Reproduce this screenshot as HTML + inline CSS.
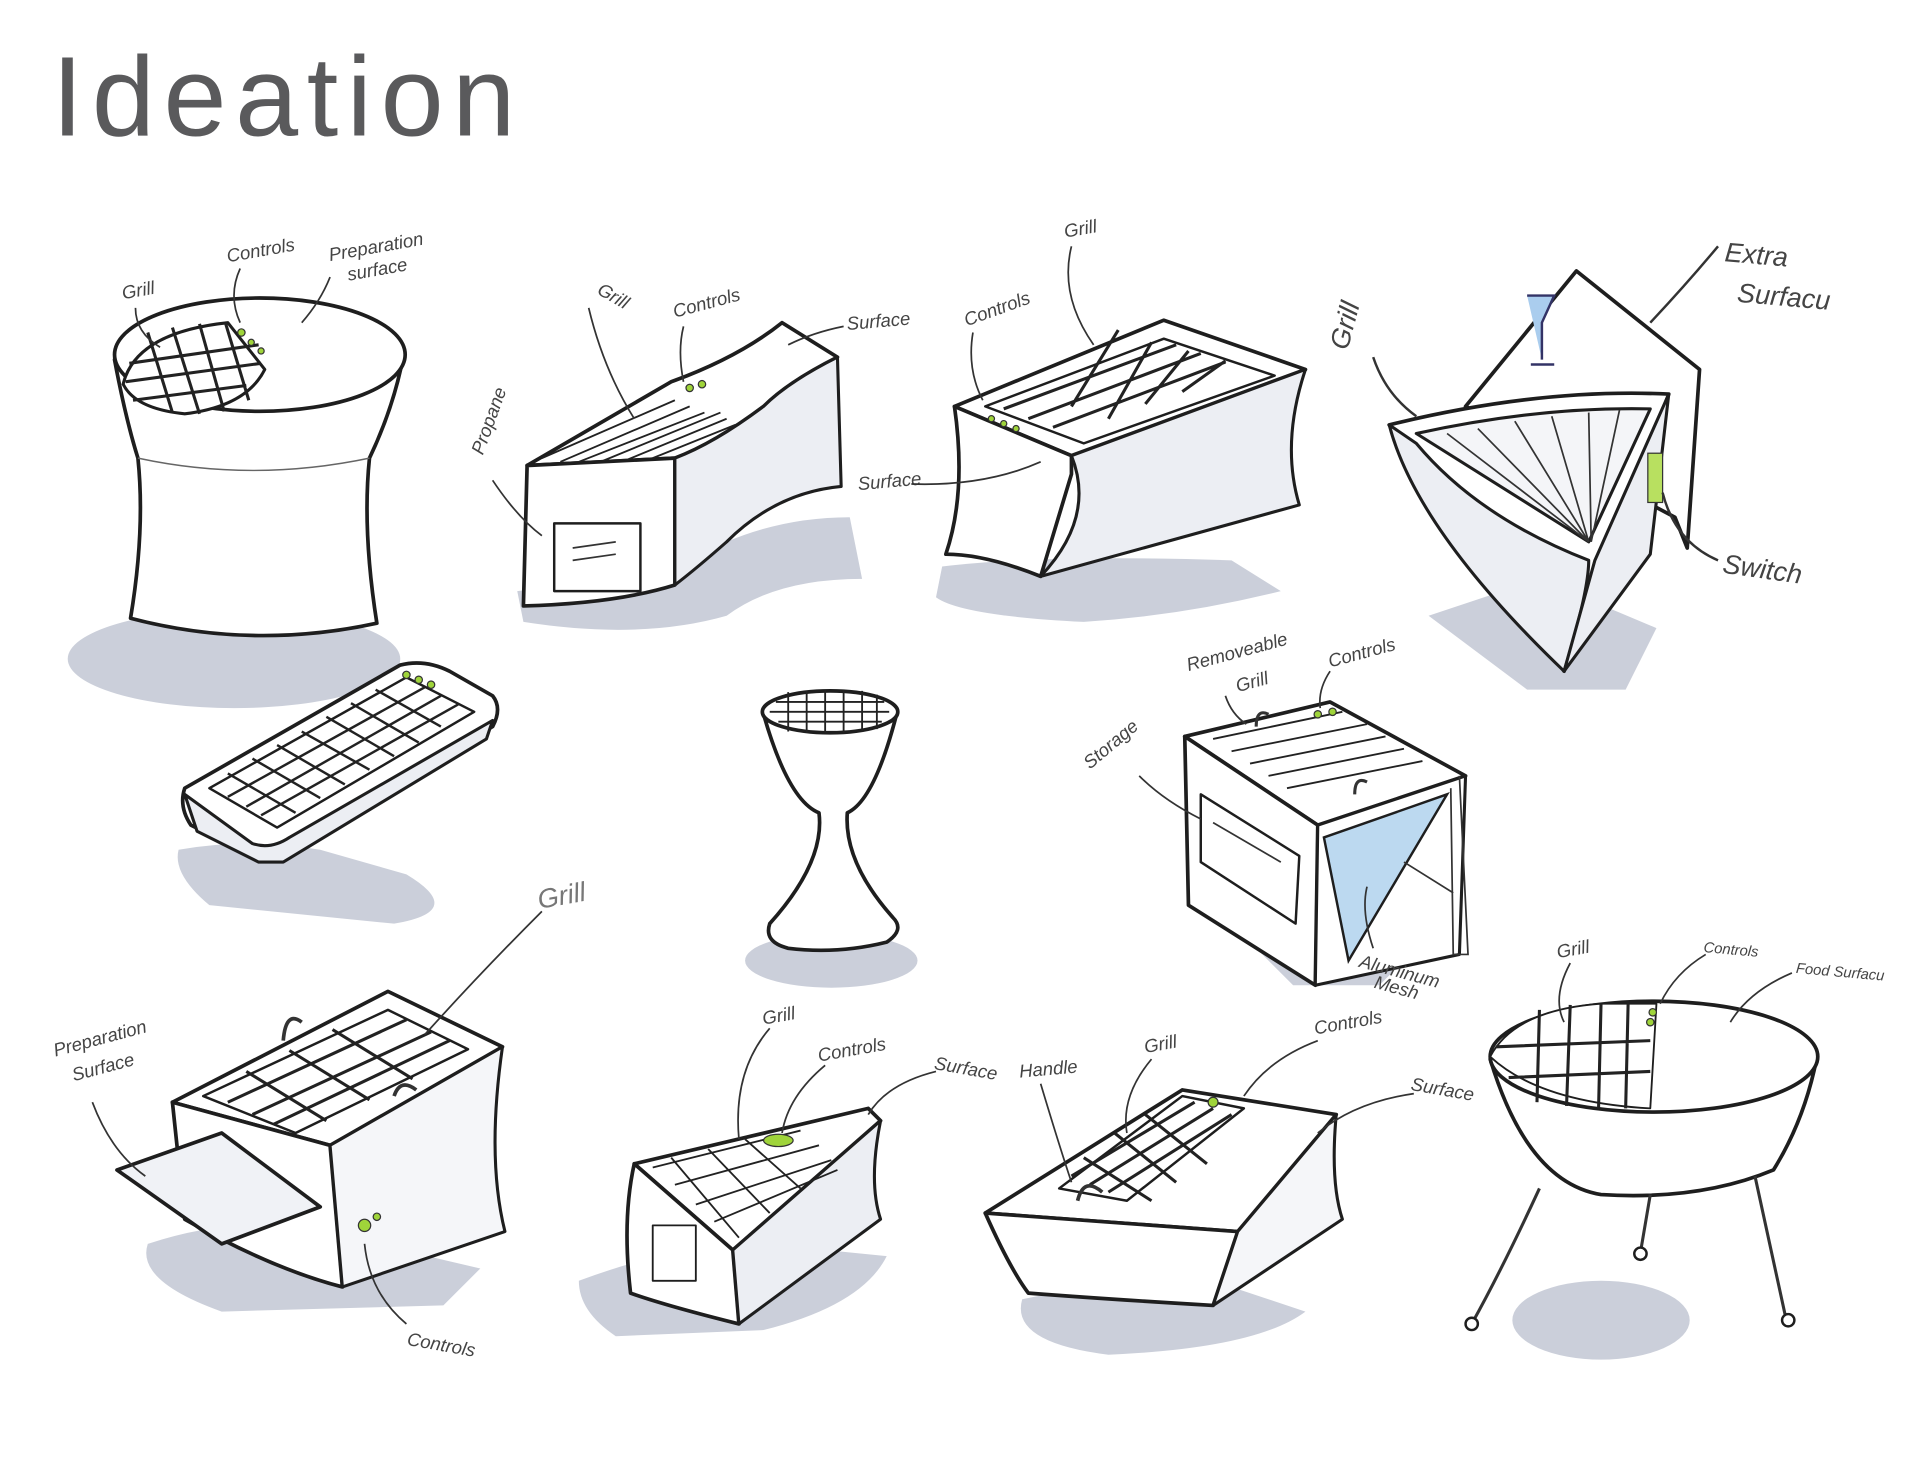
<!DOCTYPE html>
<html><head><meta charset="utf-8">
<style>
html,body{margin:0;padding:0;background:#fff;}
svg{display:block}
.o{fill:#fff;stroke:#1e1e1e;stroke-width:3;stroke-linejoin:round;stroke-linecap:round}
.s{fill:#eceef3;stroke:#1e1e1e;stroke-width:2.5;stroke-linejoin:round}
.d{fill:#dfe2ea;stroke:#1e1e1e;stroke-width:2.5;stroke-linejoin:round}
.g{fill:none;stroke:#222;stroke-width:2.5}
.t{fill:none;stroke:#666;stroke-width:1.2}
.a{fill:none;stroke:#333;stroke-width:1.4}
.sh{fill:#cbcfda}
.l{font-family:"Liberation Sans",sans-serif;font-size:15px;fill:#444;font-style:italic}
.lb{font-family:"Liberation Sans",sans-serif;font-size:22px;fill:#444;font-style:italic}
.gr{fill:#9fd43a;stroke:#333;stroke-width:1}
</style></head>
<body>
<svg width="1920" height="1484" viewBox="0 0 1559 1205" preserveAspectRatio="none" xmlns="http://www.w3.org/2000/svg">
<text x="42" y="110" font-family="Liberation Sans,sans-serif" font-size="92" letter-spacing="7" fill="#5a5a5c">Ideation</text>

<!-- 1 stool -->
<ellipse class="sh" cx="190" cy="535" rx="135" ry="40"/>
<path class="o" d="M93,292 Q102,340 112,372 Q118,430 106,502 Q205,528 306,506 Q294,430 300,372 Q320,330 328,287 Z"/>
<path class="t" d="M112,372 Q205,392 300,372"/>
<ellipse class="o" cx="211" cy="288" rx="118" ry="46"/>
<path class="d" d="M100,312 Q110,270 185,262 L215,300 Q200,330 150,336 Q110,332 100,312 Z" style="fill:#fff"/>
<g class="g"><path d="M105,295 L210,280 M102,310 L212,295 M108,325 L200,313 M120,270 L140,335 M140,266 L162,336 M162,263 L182,334 M183,262 L202,325"/></g>
<circle class="gr" cx="196" cy="270" r="3"/><circle class="gr" cx="204" cy="278" r="2.5"/><circle class="gr" cx="212" cy="285" r="2.5"/>
<text class="l" x="100" y="243" transform="rotate(-10 100 243)">Grill</text>
<text class="l" x="185" y="213" transform="rotate(-10 185 213)">Controls</text>
<text class="l" x="268" y="212" transform="rotate(-10 268 212)">Preparation</text>
<text class="l" x="283" y="228" transform="rotate(-10 283 228)">surface</text>
<path class="a" d="M110,250 Q110,270 130,282 M195,218 Q185,240 195,262 M268,225 Q260,245 245,262"/>

<!-- 2 curved bench -->
<path class="sh" d="M420,480 Q500,470 560,455 Q620,420 690,420 L700,470 Q630,470 590,500 Q520,520 425,505 Z"/>
<path class="o" d="M428,378 L545,310 Q600,290 635,262 L680,290 Q640,310 620,330 Q580,360 548,372 Z"/>
<path class="o" d="M428,378 L548,372 L548,475 Q500,490 425,492 Z"/>
<path class="s" d="M548,372 Q580,360 620,330 Q640,310 680,290 L683,395 Q630,400 590,440 Q565,462 548,475 Z"/>
<g class="g" style="stroke-width:1.5"><path d="M440,372 L548,325 M455,375 L560,330 M470,375 L572,335 M490,374 L585,335 M510,373 L590,340 M530,372 L597,345"/></g>
<rect class="o" x="450" y="425" width="70" height="55" style="stroke-width:2"/>
<path class="a" d="M465,445 L500,440 M465,455 L500,450"/>
<circle class="gr" cx="560" cy="315" r="3"/><circle class="gr" cx="570" cy="312" r="3"/>
<text class="l" x="484" y="238" transform="rotate(30 484 238)">Grill</text>
<text class="l" x="548" y="258" transform="rotate(-15 548 258)">Controls</text>
<text class="l" x="688" y="268" transform="rotate(-5 688 268)">Surface</text>
<text class="l" x="392" y="370" transform="rotate(-70 392 370)">Propane</text>
<path class="a" d="M478,250 Q490,300 515,340 M555,265 Q550,285 555,310 M685,265 Q660,270 640,280 M400,390 Q420,420 440,435"/>

<!-- 3 rect top -->
<path class="sh" d="M765,460 Q850,450 1000,455 L1040,480 Q960,500 880,505 Q780,500 760,485 Z"/>
<path class="o" d="M775,330 L945,260 L1060,300 L870,370 Z"/>
<path class="o" d="M775,330 L870,370 L870,385 L845,468 Q800,450 768,450 Q785,400 775,330 Z"/>
<path class="s" d="M870,370 L1060,300 Q1040,360 1055,410 L845,468 Q890,420 870,370 Z"/>
<path class="o" d="M800,330 L945,275 L1035,305 L880,360 Z" style="stroke-width:2"/>
<g class="g"><path d="M815,332 L955,280 M835,340 L975,287 M855,347 L995,294 M870,330 L908,268 M900,340 L935,278 M930,328 L965,285 M960,318 L995,293"/></g>
<circle class="gr" cx="805" cy="340" r="2.5"/><circle class="gr" cx="815" cy="344" r="2.5"/><circle class="gr" cx="825" cy="348" r="2.5"/>
<text class="l" x="865" y="193" transform="rotate(-10 865 193)">Grill</text>
<text class="l" x="785" y="265" transform="rotate(-20 785 265)">Controls</text>
<text class="l" x="697" y="398" transform="rotate(-5 697 398)">Surface</text>
<path class="a" d="M870,200 Q860,240 888,280 M790,270 Q785,300 798,325 M740,393 Q800,395 845,375"/>

<!-- 4 triangle -->
<path class="sh" d="M1160,500 L1250,470 L1345,510 L1320,560 L1240,560 Z"/>
<path class="o" d="M1190,330 L1280,220 L1380,300 L1370,445 L1360,420 Z"/>
<path class="o" d="M1128,345 Q1250,315 1355,320 L1270,545 Z"/>
<path class="s" d="M1128,345 Q1150,430 1270,545 Q1290,480 1290,455 Q1200,420 1150,360 Z"/>
<path class="s" d="M1355,320 L1340,450 L1270,545 L1295,455 Z"/>
<path class="d" d="M1150,352 Q1250,330 1340,332 L1290,440 Z" style="fill:#f4f5f8"/>
<g class="a"><path d="M1175,352 L1290,440 M1200,348 L1290,440 M1230,342 L1290,440 M1260,338 L1290,440 M1290,335 L1292,440 M1315,333 L1292,440"/></g>
<rect class="gr" x="1338" y="368" width="12" height="40" style="fill:#b8e060"/>
<path d="M1240,240 L1262,240 L1252,262 L1252,292 M1243,296 L1262,296" class="a" style="stroke:#336;stroke-width:2;fill:#aacdee"/>
<text class="lb" x="1400" y="212" transform="rotate(5 1400 212)">Extra</text>
<text class="lb" x="1410" y="245" transform="rotate(5 1410 245)">Surfacu</text>
<text class="lb" x="1094" y="285" transform="rotate(-75 1094 285)">Grill</text>
<text class="lb" x="1398" y="465" transform="rotate(8 1398 465)">Switch</text>
<path class="a" d="M1395,200 Q1370,230 1340,262 M1115,290 Q1125,320 1150,338 M1395,455 Q1360,440 1350,400" style="stroke-width:2"/>

<!-- 5 tray -->
<path class="sh" d="M145,690 Q200,680 260,690 L330,710 Q380,740 320,750 L170,735 Q140,710 145,690 Z"/>
<path class="o" d="M150,640 L325,540 Q345,535 365,545 L400,565 Q408,575 400,590 L235,690 Q225,698 205,695 L155,670 Q145,655 150,640 Z"/>
<path class="s" d="M150,645 L160,675 L210,700 L230,700 L395,600 L400,585 L235,680 Q220,690 205,685 Z"/>
<path class="o" d="M170,640 L330,550 L385,578 L225,672 Z" style="stroke-width:2"/>
<g class="g" style="stroke-width:2"><path d="M185,647 L345,558 M200,655 L358,565 M212,662 L372,572 M185,628 L240,660 M205,616 L260,648 M225,605 L280,637 M245,594 L300,625 M265,582 L320,614 M285,571 L340,603 M305,560 L358,590"/></g>
<circle class="gr" cx="330" cy="548" r="3"/><circle class="gr" cx="340" cy="552" r="3"/><circle class="gr" cx="350" cy="556" r="3"/>

<!-- 6 pedestal -->
<ellipse class="sh" cx="675" cy="780" rx="70" ry="22"/>
<path class="o" d="M620,580 Q640,650 665,660 Q670,700 625,750 Q620,765 640,770 Q680,775 720,765 Q735,755 725,745 Q685,700 688,660 Q710,650 728,580 Z"/>
<ellipse class="o" cx="674" cy="578" rx="55" ry="17"/>
<g class="g" style="stroke-width:1.5"><path d="M625,578 L722,578 M630,570 L718,570 M632,586 L716,586 M640,562 L640,594 M655,561 L655,595 M670,560 L670,595 M685,560 L685,595 M700,561 L700,594 M712,564 L712,592"/></g>

<!-- 7 cube -->
<path class="sh" d="M990,740 L1060,760 L1150,770 L1120,800 L1050,800 Z"/>
<path class="o" d="M962,598 L1080,570 L1190,630 L1070,670 Z"/>
<path class="o" d="M962,598 L1070,670 L1068,800 L965,735 Z"/>
<path class="s" d="M1070,670 L1190,630 L1185,775 L1068,800 Z" style="fill:#fff"/>
<path d="M1075,680 L1175,645 L1095,780 Z" fill="#bcd9f0" stroke="#1e1e1e" stroke-width="2"/>
<path class="o" d="M975,645 L1055,695 L1052,750 L975,700 Z" style="stroke-width:2"/>
<path class="a" d="M985,668 L1040,700"/>
<g class="g" style="stroke-width:1.5"><path d="M985,600 L1090,578 M1000,610 L1110,588 M1015,620 L1125,598 M1030,630 L1140,608 M1045,640 L1155,618"/></g>
<path class="a" d="M1020,590 Q1020,575 1030,580 M1100,645 Q1100,630 1110,635" style="stroke-width:2.5"/>
<path class="a" d="M1185,630 L1192,775 L1180,775 L1178,640 M1180,725 L1140,700"/>
<circle class="gr" cx="1070" cy="580" r="3"/><circle class="gr" cx="1082" cy="578" r="3"/>
<text class="l" x="965" y="545" transform="rotate(-15 965 545)">Removeable</text>
<text class="l" x="1005" y="562" transform="rotate(-15 1005 562)">Grill</text>
<text class="l" x="1080" y="542" transform="rotate(-15 1080 542)">Controls</text>
<text class="l" x="885" y="625" transform="rotate(-40 885 625)">Storage</text>
<text class="l" x="1103" y="785" transform="rotate(15 1103 785)">Aluminum</text>
<text class="l" x="1115" y="802" transform="rotate(15 1115 802)">Mesh</text>
<path class="a" d="M995,565 Q1000,580 1012,588 M1080,545 Q1070,560 1072,575 M925,630 Q945,650 975,665 M1115,770 Q1105,740 1110,720"/>

<!-- 8 bottom-left box -->
<path class="sh" d="M120,1010 Q180,990 240,995 L390,1030 L360,1060 L180,1065 Q110,1040 120,1010 Z"/>
<path class="o" d="M140,895 L315,805 L408,850 L268,930 Z"/>
<path class="o" d="M140,895 L268,930 L278,1045 Q220,1030 150,990 Z"/>
<path class="s" d="M268,930 L408,850 Q395,940 410,1000 L278,1045 Z" style="fill:#f5f6f9"/>
<path class="o" d="M95,950 L180,920 L260,980 L180,1010 Z" style="fill:#f0f2f6"/>
<path class="o" d="M165,890 L315,820 L380,852 L240,920 Z" style="stroke-width:2"/>
<g class="g"><path d="M185,895 L330,828 M205,905 L350,838 M222,913 L365,845 M200,870 L265,910 M235,853 L300,893 M270,836 L335,876"/></g>
<path class="a" d="M230,845 Q232,820 245,830 M320,890 Q325,875 338,885" style="stroke-width:3"/>
<circle class="gr" cx="296" cy="995" r="5"/><circle class="gr" cx="306" cy="988" r="3"/>
<text class="l" x="45" y="858" transform="rotate(-15 45 858)">Preparation</text>
<text class="l" x="60" y="878" transform="rotate(-15 60 878)">Surface</text>
<text class="lb" x="438" y="738" transform="rotate(-10 438 738)" style="fill:#777">Grill</text>
<text class="l" x="330" y="1092" transform="rotate(10 330 1092)">Controls</text>
<path class="a" d="M75,895 Q90,935 118,955 M440,740 Q390,790 345,840 M330,1075 Q300,1050 296,1010"/>

<!-- 9 wedge -->
<path class="sh" d="M470,1040 Q550,1010 620,1010 L720,1020 Q700,1060 620,1080 L500,1085 Q470,1065 470,1040 Z"/>
<path class="o" d="M515,945 L705,900 L715,910 L595,1015 Z"/>
<path class="o" d="M515,945 L595,1015 L600,1075 Q540,1060 512,1050 Q505,990 515,945 Z"/>
<path class="s" d="M595,1015 L715,910 Q705,960 715,990 L600,1075 Z"/>
<g class="g" style="stroke-width:1.5"><path d="M530,948 L650,918 M548,962 L665,930 M565,978 L675,942 M580,992 L680,950 M545,940 L600,1005 M575,933 L625,985 M605,925 L650,965"/></g>
<rect class="o" x="530" y="995" width="35" height="45" style="stroke-width:1.5"/>
<ellipse class="gr" cx="632" cy="926" rx="12" ry="5"/>
<text class="l" x="620" y="832" transform="rotate(-10 620 832)">Grill</text>
<text class="l" x="665" y="862" transform="rotate(-10 665 862)">Controls</text>
<text class="l" x="758" y="868" transform="rotate(10 758 868)">Surface</text>
<path class="a" d="M625,835 Q595,870 600,925 M670,865 Q640,890 635,920 M760,870 Q720,880 705,905"/>

<!-- 10 bucket -->
<path class="sh" d="M830,1055 Q900,1040 1000,1045 L1060,1065 Q1020,1095 900,1100 Q820,1090 830,1055 Z"/>
<path class="o" d="M800,985 L960,885 L1085,905 L1005,1000 Z"/>
<path class="o" d="M800,985 L1005,1000 L985,1060 Q900,1055 835,1050 Q820,1030 800,985 Z"/>
<path class="s" d="M1005,1000 L1085,905 Q1080,960 1090,990 L985,1060 Z" style="fill:#f5f6f9"/>
<path class="o" d="M860,965 L960,890 L1010,900 L915,975 Z" style="stroke-width:2"/>
<g class="g"><path d="M870,955 L970,895 M885,962 L985,900 M900,968 L1000,905 M880,940 L935,975 M905,920 L955,960 M930,905 L980,945"/></g>
<path class="a" d="M875,975 Q880,955 895,968" style="stroke-width:3"/>
<circle class="gr" cx="985" cy="895" r="4"/>
<text class="l" x="828" y="875" transform="rotate(-5 828 875)">Handle</text>
<text class="l" x="930" y="855" transform="rotate(-10 930 855)">Grill</text>
<text class="l" x="1068" y="840" transform="rotate(-10 1068 840)">Controls</text>
<text class="l" x="1145" y="885" transform="rotate(10 1145 885)">Surface</text>
<path class="a" d="M845,880 Q860,930 870,960 M935,860 Q910,890 915,920 M1070,845 Q1030,860 1010,890 M1148,888 Q1100,895 1070,920"/>

<!-- 11 kettle -->
<ellipse class="sh" cx="1300" cy="1072" rx="72" ry="32"/>
<path class="o" d="M1210,860 Q1240,960 1300,970 Q1380,975 1440,950 Q1465,910 1475,860 Z"/>
<ellipse class="o" cx="1343" cy="858" rx="133" ry="45"/>
<path class="o" d="M1210,858 Q1230,820 1300,815 L1345,815 L1340,900 Q1250,895 1210,858 Z" style="stroke-width:1.5"/>
<g class="g"><path d="M1215,850 L1340,845 M1225,875 L1340,870 M1250,820 L1248,895 M1275,816 L1272,898 M1300,815 L1298,900 M1322,815 L1320,900"/></g>
<circle class="gr" cx="1342" cy="822" r="3"/><circle class="gr" cx="1340" cy="830" r="3"/>
<path class="a" d="M1250,965 Q1220,1030 1195,1075 M1340,970 L1332,1017 M1425,955 L1450,1070" style="stroke-width:2.5"/>
<circle class="o" cx="1195" cy="1075" r="5" style="stroke-width:2"/><circle class="o" cx="1332" cy="1018" r="5" style="stroke-width:2"/><circle class="o" cx="1452" cy="1072" r="5" style="stroke-width:2"/>
<text class="l" x="1265" y="778" transform="rotate(-10 1265 778)">Grill</text>
<text class="l" x="1383" y="773" transform="rotate(5 1383 773)" style="font-size:12px">Controls</text>
<text class="l" x="1458" y="790" transform="rotate(5 1458 790)" style="font-size:12px">Food Surfacu</text>
<path class="a" d="M1275,782 Q1260,810 1270,830 M1385,775 Q1360,790 1348,815 M1455,790 Q1420,805 1405,830"/>
</svg>
</body></html>
